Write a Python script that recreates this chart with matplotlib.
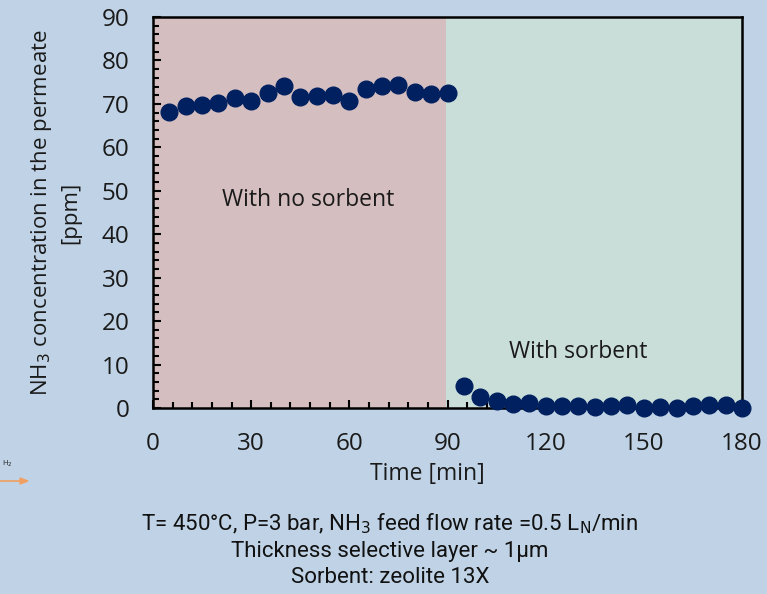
import numpy as np
import matplotlib.pyplot as plt
from matplotlib.ticker import MultipleLocator

# permeate NH3 readings, every 5 min
time_no_sorbent = [5, 10, 15, 20, 25, 30, 35, 40, 45, 50, 55, 60, 65, 70, 75, 80, 85, 90]
nh3_no_sorbent = [68.2, 69.4, 69.8, 70.3, 71.3, 70.6, 72.4, 74.1, 71.5, 71.8, 72.1, 70.7,
                  73.4, 74.1, 74.4, 72.7, 72.2, 72.4]

time_sorbent = [95, 100, 105, 110, 115, 120, 125, 130, 135, 140, 145, 150, 155, 160,
                165, 170, 175, 180]
nh3_sorbent = [5.1, 2.5, 1.5, 0.9, 1.1, 0.55, 0.45, 0.45, 0.15, 0.45, 0.7, 0.1, 0.3,
               0.1, 0.45, 0.75, 0.6, 0.1]

x_ticks = [0, 30, 60, 90, 120, 150, 180]
y_ticks = [0, 10, 20, 30, 40, 50, 60, 70, 80, 90]

bg = "#c0d3e6"
navy = "#00205f"

plt.rcParams["font.family"] = ["Open Sans", "DejaVu Sans"]

fig = plt.figure(figsize=(7.67, 5.94), dpi=100, facecolor=bg)
ax = fig.add_axes([153 / 767, 1 - 408 / 594, 589 / 767, 391 / 594])
ax.set_facecolor(bg)

# shaded phases of the test
ax.axvspan(0, 89.5, color="#d5bec0", lw=0, zorder=0)
ax.axvspan(89.5, 180, color="#c9ddd9", lw=0, zorder=0)

ax.plot(time_no_sorbent, nh3_no_sorbent, "o", color=navy, ms=12, clip_on=False, zorder=3)
ax.plot(time_sorbent, nh3_sorbent, "o", color=navy, ms=12, clip_on=False, zorder=3)

ax.text(47.5, 47.9, "With no sorbent", ha="center", va="center", fontsize=16.5, color="#1a1a1a")
ax.text(130, 12.8, "With sorbent", ha="center", va="center", fontsize=16.5, color="#1a1a1a")

ax.set_xlim(0, 180)
ax.set_ylim(0, 90)
ax.set_xticks(x_ticks)
ax.set_yticks(y_ticks)
ax.xaxis.set_minor_locator(MultipleLocator(6))
ax.yaxis.set_minor_locator(MultipleLocator(2))
ax.tick_params(which="both", direction="in", width=1.5, color="black", labelsize=17.5,
               labelcolor="#1a1a1a")
ax.tick_params(which="major", length=6, pad=17)
ax.tick_params(which="minor", length=4)
for s in ax.spines.values():
    s.set_linewidth(1.8)
    s.set_color("black")

ax.set_ylabel("NH$_3$ concentration in the permeate\n[ppm]", fontsize=16, color="#1a1a1a",
              linespacing=1.4)
ax.yaxis.set_label_coords(-0.122, 0.5)
ax.set_xlabel("Time [min]", fontsize=16.5, color="#1a1a1a")
ax.xaxis.set_label_coords((427 - 153) / 589, -0.137)

caption = ("T= 450°C, P=3 bar, NH$_3$ feed flow rate =0.5 L$_\\mathrm{N}$/min\n"
           "Thickness selective layer ~ 1μm\n"
           "Sorbent: zeolite 13X")
fig.text(390 / 767, 1 - 550 / 594, caption, ha="center", va="center", fontsize=16,
         family=["Roboto", "DejaVu Sans"], linespacing=1.3, color="#111111")

# small flow marker at the left edge
fig.text(2 / 767, 1 - 464 / 594, "H$_2$", fontsize=5.5, ha="left", va="center", color="#222222")
fig.add_artist(plt.Line2D([0, 22 / 767], [1 - 481 / 594] * 2, color="#f0a060", lw=1.2))
fig.add_artist(plt.Polygon([[20 / 767, 1 - 478 / 594], [28 / 767, 1 - 481 / 594],
                            [20 / 767, 1 - 484 / 594]], color="#f0a060"))

fig.savefig("out.png", dpi=100, facecolor=bg)
